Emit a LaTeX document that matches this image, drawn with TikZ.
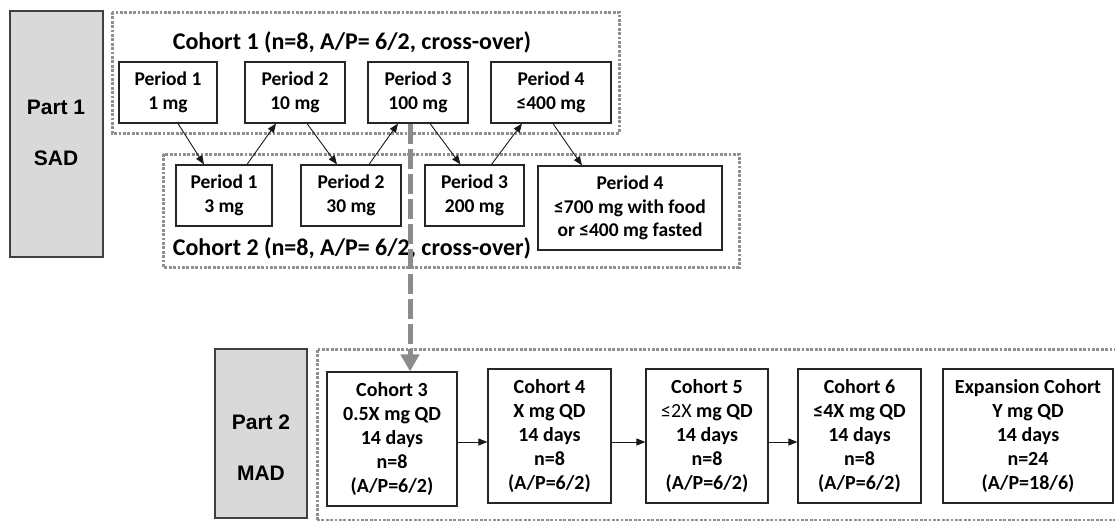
\documentclass[tikz,border=0pt]{standalone}
\usepackage{fontspec}
\setmainfont{Carlito}
\newfontfamily\partfont{Liberation Sans}
\usetikzlibrary{arrows.meta}

\definecolor{partfill}{HTML}{D9D9D9}
\definecolor{partline}{HTML}{404040}
\definecolor{dotgray}{HTML}{8F8F8F}
\definecolor{flowgray}{HTML}{8C8C8C}
\definecolor{boxline}{HTML}{262626}

\tikzset{
  partbox/.style={draw=partline, fill=partfill, line width=1.1pt, inner sep=0pt},
  partlabel/.style={inner sep=0pt, font=\partfont\bfseries\fontsize{21}{25}\selectfont},
  periodbox/.style={draw=boxline, line width=1.1pt, inner sep=0pt, align=center,
    font=\bfseries\fontsize{19.5}{24.5}\selectfont},
  cohortbox/.style={draw=boxline, line width=1.1pt, inner sep=0pt, align=center,
    minimum height=134pt, font=\bfseries\fontsize{20}{24}\selectfont},
  group/.style={draw=dotgray, line width=3pt, dash pattern=on 2.8pt off 1.6pt},
  grouptitle/.style={inner sep=0pt, font=\bfseries\fontsize{24}{28}\selectfont},
  arr/.style={draw=black!90, line width=0.9pt, -{Triangle[length=9pt,width=7pt]}},
  flow/.style={draw=flowgray, line width=5pt, dash pattern=on 20pt off 5pt,
    -{Triangle[length=17pt,width=18pt]}}
}

\begin{document}
\begin{tikzpicture}[x=1pt, y=-1pt]
\useasboundingbox (0,0) rectangle (1115,520);

% ---------- Part 1: single ascending dose ----------
\node[partbox, minimum width=93pt, minimum height=246pt] (part1) at (56.5,134) {};
\node[partlabel] (part1a) at (56,107) {Part 1};
\node[partlabel] (part1b) at (56,158) {SAD};

% cohort groupings
\draw[group] (112,12) rectangle (619,133);
\draw[group] (163,154) rectangle (739,267);
\node[grouptitle] (c1title) at (352,42) {Cohort 1 (n=8, A/P= 6/2, cross-over)};
\node[grouptitle] (c2title) at (352,248) {Cohort 2 (n=8, A/P= 6/2, cross-over)};

% cohort 1 periods
\node[periodbox, minimum width=98pt, minimum height=61pt] (p1a) at (168,92.5) {Period 1\\1 mg};
\node[periodbox, minimum width=100pt, minimum height=61pt] (p2a) at (295,92.5) {Period 2\\10 mg};
\node[periodbox, minimum width=100pt, minimum height=61pt] (p3a) at (418,92.5) {Period 3\\100 mg};
\node[periodbox, minimum width=120pt, minimum height=61pt] (p4a) at (551,92.5) {Period 4\\≤400 mg};

% cohort 2 periods
\node[periodbox, minimum width=96pt, minimum height=61pt] (p1b) at (224,195.5) {Period 1\\3 mg};
\node[periodbox, minimum width=100pt, minimum height=61pt] (p2b) at (351,195.5) {Period 2\\30 mg};
\node[periodbox, minimum width=99pt, minimum height=61pt] (p3b) at (474.5,195.5) {Period 3\\200 mg};
\node[periodbox, minimum width=184pt, minimum height=84pt, font=\bfseries\fontsize{19.5}{23.5}\selectfont] (p4b) at (630,208) {Period 4\\≤700 mg with food\\or ≤400 mg fasted};

% alternating dose escalation between the two cohorts
\draw[arr] ([xshift=10pt]p1a.south) -- ([xshift=-20pt]p1b.north);
\draw[arr] ([xshift=23pt]p1b.north) -- ([xshift=-19pt]p2a.south);
\draw[arr] ([xshift=12pt]p2a.south) -- ([xshift=-14pt]p2b.north);
\draw[arr] ([xshift=18pt]p2b.north) -- ([xshift=-20pt]p3a.south);
\draw[arr] ([xshift=12pt]p3a.south) -- ([xshift=-14pt]p3b.north);
\draw[arr] ([xshift=17pt]p3b.north) -- ([xshift=-29pt]p4a.south);
\draw[arr] ([xshift=2pt]p4a.south) -- ([xshift=-48pt]p4b.north);

% ---------- Part 2: multiple ascending dose ----------
\node[partbox, minimum width=92pt, minimum height=169pt] (part2) at (261,433.5) {};
\node[partlabel] (part2a) at (261,422) {Part 2};
\node[partlabel] (part2b) at (261,473) {MAD};

\draw[group] (317,520) -- (317,349) -- (1125,349);
\draw[group] (317,520) -- (1125,520);

\node[cohortbox, minimum width=130pt] (c3) at (392,439) {Cohort 3\\0.5X mg QD\\14 days\\n=8\\(A/P=6/2)};
\node[cohortbox, minimum width=123pt] (c4) at (549.5,436) {Cohort 4\\X mg QD\\14 days\\n=8\\(A/P=6/2)};
\node[cohortbox, minimum width=122pt] (c5) at (707,436) {Cohort 5\\{\mdseries ≤2X} mg QD\\14 days\\n=8\\(A/P=6/2)};
\node[cohortbox, minimum width=123pt] (c6) at (859.5,436) {Cohort 6\\≤4X mg QD\\14 days\\n=8\\(A/P=6/2)};
\node[cohortbox, minimum width=170pt] (exp) at (1028,436) {Expansion Cohort\\Y mg QD\\14 days\\n=24\\(A/P=18/6)};

\coordinate (a34) at ([yshift=-3pt]c3.east);
\coordinate (a45) at ([yshift=-6pt]c4.east);
\coordinate (a56) at ([yshift=-6pt]c5.east);
\draw[arr] (a34) -- (a34 -| c4.west);
\draw[arr] (a45) -- (a45 -| c5.west);
\draw[arr] (a56) -- (a56 -| c6.west);

% transition from SAD to MAD
\coordinate (flowstart) at ([xshift=-8pt]p3a.south);
\draw[flow] (flowstart) -- (flowstart |- c3.north);
\end{tikzpicture}
\end{document}
